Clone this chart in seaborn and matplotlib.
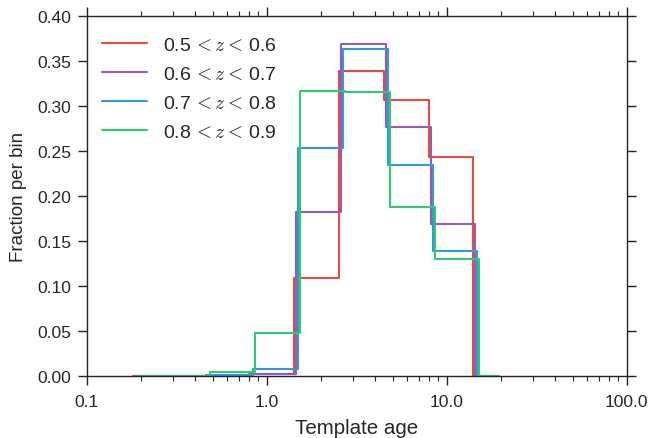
import numpy as np
import pandas as pd
import matplotlib
matplotlib.use("Agg")
import matplotlib.pyplot as plt
from matplotlib.ticker import FixedLocator, FormatStrFormatter, LogLocator, NullFormatter
import seaborn as sns

# Shared template-age bin edges and a small per-sample shift of the edges
age_edges = [0.18, 0.255, 0.45, 0.80, 1.42, 2.53, 4.48, 8.0, 14.0, 18.0]
edge_shift = [1.000, 1.026, 1.052, 1.080]

labels = [r"0.5$\,<z<\,$0.6", r"0.6$\,<z<\,$0.7", r"0.7$\,<z<\,$0.8", r"0.8$\,<z<\,$0.9"]
colors = ["#e74c3c", "#9b59b6", "#3498db", "#2ecc71"]

frac_z05 = [0.0, 0.0, 0.0, 0.002, 0.109, 0.338, 0.306, 0.243, 0.0]
frac_z06 = [0.0, 0.0, 0.001, 0.002, 0.1815, 0.369, 0.276, 0.168, 0.0]
frac_z07 = [0.0, 0.0, 0.001, 0.0074, 0.253, 0.363, 0.234, 0.138, 0.0]
frac_z08 = [0.0, 0.0, 0.004, 0.047, 0.316, 0.315, 0.187, 0.130, 0.0]
fractions = [frac_z05, frac_z06, frac_z07, frac_z08]

x_ticks = [0.1, 1.0, 10.0, 100.0]
y_ticks = [0.00, 0.05, 0.10, 0.15, 0.20, 0.25, 0.30, 0.35, 0.40]

sns.set_theme(style="ticks")
plt.rcParams["font.family"] = ["Liberation Sans", "DejaVu Sans"]
plt.rcParams["mathtext.fontset"] = "cm"

fig = plt.figure(figsize=(6.51, 4.39), dpi=100)
ax = fig.add_axes([0.1332, 0.1419, 0.8295, 0.8201])

for frac, shift, lab, col in zip(fractions, edge_shift, labels, colors):
    edges = [e * shift for e in age_edges]
    centers = [np.sqrt(a * b) for a, b in zip(edges[:-1], edges[1:])]
    df = pd.DataFrame({"age": centers, "frac": frac})
    sns.histplot(data=df, x="age", weights="frac", bins=edges, element="step",
                 fill=False, color=col, linewidth=1.5, label=lab, ax=ax)

ax.set_xscale("log")
ax.set_xlim(0.1, 100)
ax.set_ylim(0, 0.40)
ax.xaxis.set_major_locator(FixedLocator(x_ticks))
ax.xaxis.set_major_formatter(FormatStrFormatter("%.1f"))
ax.xaxis.set_minor_locator(LogLocator(base=10, subs=np.arange(2, 10)))
ax.xaxis.set_minor_formatter(NullFormatter())
ax.yaxis.set_major_locator(FixedLocator(y_ticks))
ax.yaxis.set_major_formatter(FormatStrFormatter("%.2f"))

for side in ["top", "right", "left", "bottom"]:
    ax.spines[side].set_visible(True)
    ax.spines[side].set_color("#222222")
    ax.spines[side].set_linewidth(1.0)

ax.tick_params(which="both", direction="out", top=True, right=True,
               colors="#222222", labelcolor="#262626")
ax.tick_params(which="major", length=6.8, width=1.0, labelsize=12.6)
ax.tick_params(axis="x", which="major", pad=6.5)
ax.tick_params(axis="y", which="major", pad=4.5)
ax.tick_params(which="minor", length=3.3, width=0.8)

ax.set_xlabel("Template age", fontsize=14.8, color="#262626", labelpad=6.5)
ax.set_ylabel("Fraction per bin", fontsize=13.5, color="#262626", labelpad=7)

ax.legend(loc="upper left", bbox_to_anchor=(0.0, 1 - 5 / 360), frameon=False,
          fontsize=14, handlelength=2.3, labelspacing=0.58, borderaxespad=0.4)

fig.savefig("out.png", dpi=100)
